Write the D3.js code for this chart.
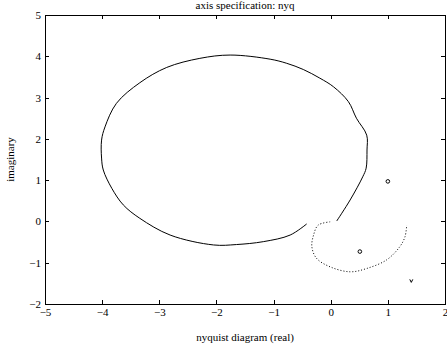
<!DOCTYPE html>
<html>
<head>
<meta charset="utf-8">
<script src="https://cdn.jsdelivr.net/npm/d3@7"></script>
<style>
body{margin:0;background:#fff;}
</style>
</head>
<body>
<svg id="c" width="447" height="346"></svg>
<script>
const xTicks = [-5,-4,-3,-2,-1,0,1,2];
const yTicks = [-2,-1,0,1,2,3,4,5];
// solid nyquist curve (real, imaginary)
const solidRe = [-0.42,-0.71,-1.18,-1.65,-2.05,-2.81,-3.34,-3.63,-3.83,-3.98,-4.01,-4.01,-3.95,-3.75,-3.34,-2.87,-2.29,-1.76,-1.06,-0.77,-0.48,-0.19,0.05,0.31,0.45,0.63,0.635,0.62,0.56,0.34,0.105];
const solidIm = [-0.06,-0.33,-0.49,-0.56,-0.57,-0.33,0.075,0.40,0.80,1.245,1.535,1.97,2.29,2.86,3.36,3.73,3.95,4.03,3.93,3.83,3.68,3.47,3.26,2.90,2.50,2.09,1.73,1.29,1.08,0.52,0.01];
// dotted curve
const dotRe = [-0.01,-0.22,-0.30,-0.33,-0.25,-0.01,0.34,0.63,0.98,1.21,1.30,1.33];
const dotIm = [-0.01,-0.09,-0.33,-0.61,-0.89,-1.10,-1.22,-1.14,-0.93,-0.61,-0.37,-0.09];
// markers
const circRe = [1.0, 0.51];
const circIm = [0.97, -0.73];
const vRe = [1.41];
const vIm = [-1.44];

const FONT = "'Liberation Serif'";
const svg = d3.select("#c");
const x = d3.scaleLinear().domain([-5,2]).range([45,445]);
const y = d3.scaleLinear().domain([-2,5]).range([304,15]);

const g = svg.append("g").attr("shape-rendering","crispEdges");
g.append("rect").attr("x",x(-5)).attr("y",y(5)).attr("width",x(2)-x(-5)).attr("height",y(-2)-y(5))
 .attr("fill","none").attr("stroke","#000");

const bx = g.append("g").attr("transform",`translate(0,${y(-2)})`)
 .call(d3.axisBottom(x).tickValues(xTicks).tickSize(-4).tickPadding(4).tickFormat(d3.format("d")));
const tx = g.append("g").attr("transform",`translate(0,${y(5)})`)
 .call(d3.axisTop(x).tickValues(xTicks).tickSize(-4).tickFormat(""));
const ly = g.append("g").attr("transform",`translate(${x(-5)},0)`)
 .call(d3.axisLeft(y).tickValues(yTicks).tickSize(-4).tickPadding(4).tickFormat(d3.format("d")));
const ry = g.append("g").attr("transform",`translate(${x(2)},0)`)
 .call(d3.axisRight(y).tickValues(yTicks).tickSize(-4).tickFormat(""));
[bx,tx,ly,ry].forEach(a=>{
  a.attr("font-family",null).attr("font-size",null);
  a.select(".domain").remove();
  a.selectAll("text").style("font-family",FONT).style("font-size","11px").style("fill","#000");
  a.selectAll("line").attr("stroke","#000");
});
bx.selectAll("text").attr("dy","0.71em");

const solid = solidRe.map((v,i)=>[v,solidIm[i]]);
const dotted = dotRe.map((v,i)=>[v,dotIm[i]]);
const line = d3.line().x(d=>x(d[0])).y(d=>y(d[1])).curve(d3.curveCatmullRom);
svg.append("path").attr("d",line(solid)).attr("fill","none").attr("stroke","#000").attr("stroke-width",1);
svg.append("path").attr("d",line(dotted))
 .attr("fill","none").attr("stroke","#000").attr("stroke-width",1).attr("stroke-dasharray","1,2");

svg.selectAll("circle.m").data(circRe.map((v,i)=>[v,circIm[i]])).enter().append("circle")
 .attr("cx",d=>x(d[0])).attr("cy",d=>y(d[1])).attr("r",1.8).attr("fill","none").attr("stroke","#000").attr("stroke-width",1);
svg.selectAll("path.v").data(vRe.map((v,i)=>[v,vIm[i]])).enter().append("path")
 .attr("d",d=>`M${x(d[0])-1.5},${y(d[1])-1.5}L${x(d[0])},${y(d[1])+1.5}L${x(d[0])+1.5},${y(d[1])-1.5}`)
 .attr("fill","none").attr("stroke","#000").attr("stroke-width",1);

const lab = (sel)=>sel.style("font-family",FONT).style("font-size","11px").attr("fill","#000");
lab(svg.append("text").attr("x",(x(-5)+x(2))/2).attr("y",9).attr("text-anchor","middle").text("axis specification: nyq"));
lab(svg.append("text").attr("x",(x(-5)+x(2))/2).attr("y",341).attr("text-anchor","middle").text("nyquist diagram (real)"));
lab(svg.append("text").attr("transform",`translate(14,${(y(5)+y(-2))/2}) rotate(-90)`).attr("text-anchor","middle").text("imaginary"));
</script>
</body>
</html>
